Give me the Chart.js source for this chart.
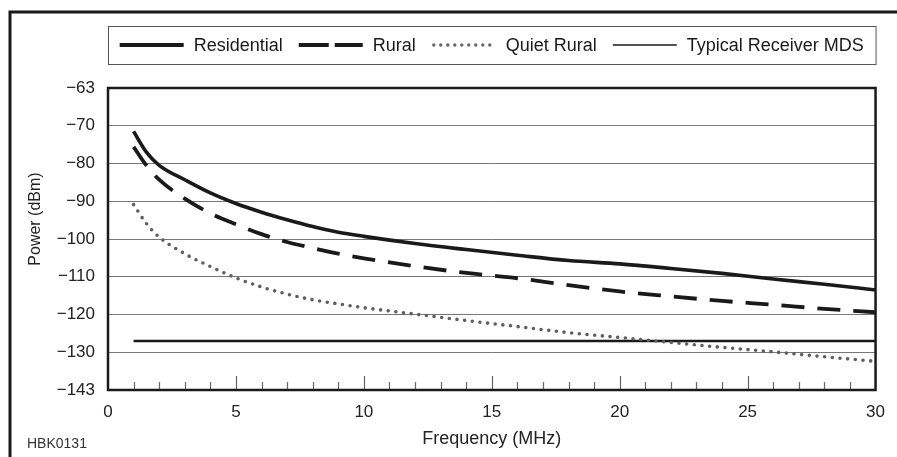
<!DOCTYPE html>
<html>
<head>
<meta charset="utf-8">
<script src="https://cdn.jsdelivr.net/npm/chart.js@4.4.1/dist/chart.umd.min.js"></script>
<style>
  html, body { margin: 0; padding: 0; background: #fff; }
  canvas { display: block; }
</style>
</head>
<body>
<canvas id="noiseChart" width="897" height="457"></canvas>
<script>
const freqs = [1, 1.5, 2, 3, 4, 5, 6, 7, 8, 9, 10, 12, 14, 16, 18, 20, 22, 24, 26, 28, 30];
const residential = [-71.5, -77, -80.5, -84.3, -87.8, -90.6, -92.9, -94.9, -96.7, -98.2, -99.3,
  -101.2, -102.8, -104.3, -105.7, -106.6, -107.8, -109.1, -110.6, -112, -113.5];
const rural = [-75.6, -80.5, -84.3, -89.3, -93.2, -96.1, -98.7, -100.8, -102.4, -103.9, -105.1,
  -107.2, -109, -110.4, -112.2, -113.9, -115.2, -116.4, -117.4, -118.5, -119.4];
const quietRural = [-90.9, -95.9, -99.5, -103.9, -107.3, -110.3, -112.7, -114.6, -116.1, -117.2, -118.2,
  -119.9, -121.6, -123.2, -124.8, -126.1, -127.4, -128.7, -129.9, -131.2, -132.4];
const mdsFreqs = [1, 30];
const mds = [-127, -127];

// y axis: gridlines every 10, end labels are -63 / -143 on the chart
const yTickLabels = { '-60': '\u221263', '-140': '\u2212143' };

const FONT = '"Liberation Sans", Arial, Helvetica, sans-serif';

const toPoints = (xs, ys) => xs.map((x, i) => ({ x: x, y: ys[i] }));

// legend look (dash patterns differ slightly from the plotted lines)
const legendStyles = [
  { width: 4, dash: [], color: '#1a1a1a', cap: 'butt' },
  { width: 4, dash: [30, 6], color: '#1a1a1a', cap: 'butt' },
  { width: 3.4, dash: [0, 7], color: '#666', cap: 'round' },
  { width: 1.6, dash: [], color: '#1a1a1a', cap: 'butt' }
];

const decorations = {
  id: 'decorations',
  beforeDraw(chart) {
    const ctx = chart.ctx;
    ctx.save();
    ctx.fillStyle = '#fff';
    ctx.fillRect(0, 0, chart.width, chart.height);
    // outer frame (top and left only)
    ctx.strokeStyle = '#1a1a1a';
    ctx.lineWidth = 3;
    ctx.beginPath();
    ctx.moveTo(10, 457);
    ctx.lineTo(10, 12);
    ctx.lineTo(897, 12);
    ctx.stroke();
    ctx.restore();
  },
  afterDraw(chart) {
    const ctx = chart.ctx;
    const area = chart.chartArea;
    const xs = chart.scales.x;
    ctx.save();

    // tick marks pointing up from the x axis
    ctx.strokeStyle = '#666';
    ctx.lineWidth = 1.2;
    for (let f = 1; f < 30; f++) {
      const px = Math.round(xs.getPixelForValue(f)) + 0.5;
      const len = f % 5 === 0 ? 14 : 8;
      ctx.beginPath();
      ctx.moveTo(px, area.bottom);
      ctx.lineTo(px, area.bottom - len);
      ctx.stroke();
    }

    // plot frame
    ctx.strokeStyle = '#1a1a1a';
    ctx.lineWidth = 2.5;
    ctx.strokeRect(area.left, area.top, area.right - area.left, area.bottom - area.top);

    // legend box
    ctx.lineWidth = 1;
    ctx.strokeStyle = '#555';
    ctx.strokeRect(area.left + 0.5, 26.5, area.right - area.left, 38);

    ctx.font = '18px ' + FONT;
    ctx.textBaseline = 'middle';
    ctx.fillStyle = '#1a1a1a';
    const lineLen = 64, gap = 10, pad = 16;
    const items = chart.data.datasets.map((ds, i) => ({
      text: ds.label, style: legendStyles[i], tw: ctx.measureText(ds.label).width
    }));
    let total = pad * (items.length - 1);
    items.forEach(it => { total += lineLen + gap + it.tw; });
    let x = (area.left + area.right) / 2 - total / 2;
    const ly = 45;
    items.forEach(it => {
      ctx.save();
      ctx.strokeStyle = it.style.color;
      ctx.lineWidth = it.style.width;
      ctx.lineCap = it.style.cap;
      ctx.setLineDash(it.style.dash);
      ctx.beginPath();
      ctx.moveTo(x + (it.style.cap === 'round' ? 2 : 0), ly);
      ctx.lineTo(x + lineLen, ly);
      ctx.stroke();
      ctx.restore();
      ctx.fillText(it.text, x + lineLen + gap, ly + 1);
      x += lineLen + gap + it.tw + pad;
    });

    // y axis title
    ctx.save();
    ctx.translate(36, 219);
    ctx.rotate(-Math.PI / 2);
    ctx.font = '16px ' + FONT;
    ctx.textAlign = 'center';
    ctx.textBaseline = 'middle';
    ctx.fillStyle = '#222';
    ctx.fillText('Power (dBm)', 0, 0);
    ctx.restore();

    // figure id
    ctx.font = '14px ' + FONT;
    ctx.textAlign = 'left';
    ctx.textBaseline = 'alphabetic';
    ctx.fillStyle = '#333';
    ctx.fillText('HBK0131', 27, 448);

    ctx.restore();
  }
};

const ctx = document.getElementById('noiseChart').getContext('2d');
const chart = new Chart(ctx, {
  type: 'line',
  data: {
    datasets: [
      {
        label: 'Residential',
        data: toPoints(freqs, residential),
        borderColor: '#1a1a1a',
        borderWidth: 3.6,
        cubicInterpolationMode: 'monotone'
      },
      {
        label: 'Rural',
        data: toPoints(freqs, rural),
        borderColor: '#1a1a1a',
        borderWidth: 3.8,
        borderDash: [23, 13],
        cubicInterpolationMode: 'monotone'
      },
      {
        label: 'Quiet Rural',
        data: toPoints(freqs, quietRural),
        borderColor: '#5e5e5e',
        borderWidth: 3.6,
        borderDash: [0, 7.7],
        borderCapStyle: 'round',
        cubicInterpolationMode: 'monotone'
      },
      {
        label: 'Typical Receiver MDS',
        data: toPoints(mdsFreqs, mds),
        borderColor: '#1a1a1a',
        borderWidth: 2.6
      }
    ]
  },
  options: {
    responsive: false,
    animation: false,
    devicePixelRatio: 1,
    layout: { padding: { top: 88, left: 10, right: 21, bottom: 3 } },
    elements: { point: { radius: 0 } },
    plugins: {
      legend: { display: false },
      tooltip: { enabled: false }
    },
    scales: {
      x: {
        type: 'linear',
        min: 0,
        max: 30,
        afterFit: s => { s.height = 64; },
        grid: { display: false, drawTicks: false },
        border: { display: false },
        ticks: {
          stepSize: 5,
          padding: 12,
          color: '#222',
          font: { family: FONT, size: 17 }
        },
        title: {
          display: true,
          text: 'Frequency (MHz)',
          color: '#222',
          font: { family: FONT, size: 18 },
          padding: { top: 4, bottom: 4 }
        }
      },
      y: {
        min: -140,
        max: -60,
        afterFit: s => { s.width = 98; },
        grid: { color: '#777', lineWidth: 1, drawTicks: false },
        border: { display: false },
        ticks: {
          stepSize: 10,
          padding: 13,
          color: '#222',
          font: { family: FONT, size: 17 },
          callback: v => yTickLabels[String(v)] || ('\u2212' + Math.abs(v))
        }
      }
    }
  },
  plugins: [decorations]
});
</script>
</body>
</html>
